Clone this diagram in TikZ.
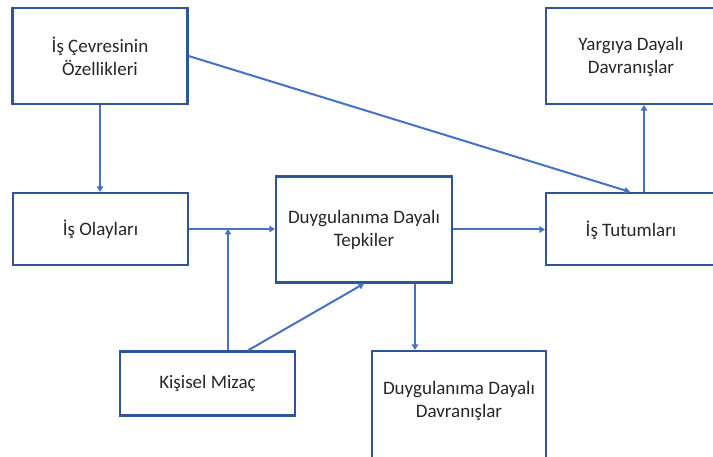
\documentclass[tikz,border=0pt]{standalone}
\usepackage{fontspec}
\setmainfont{Carlito}
\usetikzlibrary{arrows.meta,calc}
\definecolor{boxc}{HTML}{2F5597}
\definecolor{linec}{HTML}{4472C4}
\definecolor{txt}{HTML}{262626}
\tikzset{
  lbl/.style={text=txt, align=center, font=\fontsize{19}{23}\selectfont},
  box/.style={lbl, draw=boxc, line width=2.2pt, rectangle, inner sep=0pt},
  arr/.style={draw=linec, line width=2pt, -{Triangle[width=6.5pt,length=5.5pt]}},
}
\begin{document}
\begin{tikzpicture}[x=1pt,y=-1pt]
\useasboundingbox (0,0) rectangle (713,457);
\clip (0,0) rectangle (713,457);
\node[box, minimum width=175pt, minimum height=96pt] (a) at (100,56) {İş Çevresinin\\Özellikleri};
\node[box, minimum width=196pt, minimum height=96pt] (y) at (644,56) {};
\node[lbl] (ytxt) at (631,57) {Yargıya Dayalı\\Davranışlar};
\node[box, minimum width=175pt, minimum height=72pt] (c) at (100.5,229) {İş Olayları};
\node[box, minimum width=176pt, minimum height=106pt] (d) at (364,229.5) {Duygulanıma Dayalı\\Tepkiler};
\node[box, minimum width=196pt, minimum height=72pt] (t) at (644,229) {};
\node[lbl] (ttxt) at (631,230) {İş Tutumları};
\node[box, minimum width=175pt, minimum height=64pt] (m) at (207.5,383.5) {Kişisel Mizaç};
\node[box, minimum width=174pt, minimum height=130pt] (e) at (459,416) {};
\node[lbl] (etxt) at (459,401) {Duygulanıma Dayalı\\Davranışlar};
\draw[arr] (a.south) -- (a.south |- c.north);
\draw[arr] (a.east) -- ([xshift=-14pt]t.north);
\draw[arr] (t.north) -- (y.south);
\draw[arr] (c.east) -- (c.east -| d.west);
\draw[arr] ([xshift=20.5pt]m.north) coordinate (m1) -- (m1 |- c.east);
\draw[arr] ([xshift=40.5pt]m.north) -- (d.south);
\draw[arr] (d.east) -- (d.east -| t.west);
\draw[arr] ([xshift=51pt]d.south) coordinate (d1) -- (d1 |- e.north);
\end{tikzpicture}
\end{document}
